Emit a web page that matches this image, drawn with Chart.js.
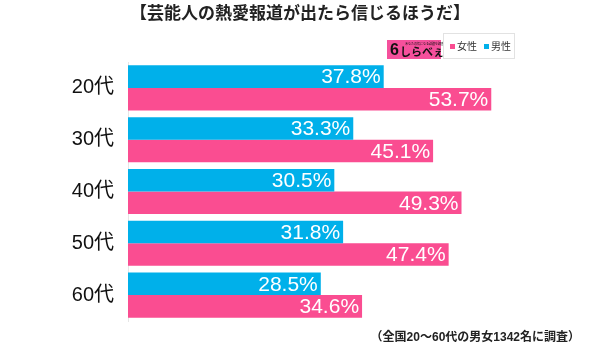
<!DOCTYPE html>
<html>
<head>
<meta charset="utf-8">
<script src="https://cdn.jsdelivr.net/npm/chart.js@4"></script>
<style>
    html, body { margin: 0; padding: 0; background: #fff; }
    #wrap { width: 600px; height: 347px; }
</style>
</head>
<body>
<div id="wrap"><canvas id="chart"></canvas></div>
<script>
// data
var categories = ["20代", "30代", "40代", "50代", "60代"];
var male = [37.8, 33.3, 30.5, 31.8, 28.5];
var female = [53.7, 45.1, 49.3, 47.4, 34.6];
var seriesNames = ["男性", "女性"];

var titleText = "【芸能人の熱愛報道が出たら信じるほうだ】";
var footText = "（全国20～60代の男女1342名に調査）";

var BLUE = "#00b0ea";
var PINK = "#fa4d91";
var FONT = "'Liberation Sans', 'Noto Sans CJK JP', sans-serif";

// labels inside the end of each bar
var barLabels = {
    id: 'barLabels',
    afterDatasetsDraw: function (chart) {
        var ctx = chart.ctx;
        ctx.save();
        ctx.fillStyle = '#fff';
        ctx.font = '21px ' + FONT;
        ctx.textAlign = 'right';
        ctx.textBaseline = 'middle';
        chart.data.datasets.forEach(function (ds, i) {
            chart.getDatasetMeta(i).data.forEach(function (bar, j) {
                ctx.fillText(ds.data[j].toFixed(1) + '%', bar.x - 3, bar.y + 1);
            });
        });
        ctx.restore();
    }
};

// title, logo, legend, footer
var decor = {
    id: 'decor',
    afterDraw: function (chart) {
        var ctx = chart.ctx;
        ctx.save();
        // title
        ctx.fillStyle = '#222';
        ctx.font = 'bold 17px ' + FONT;
        ctx.textAlign = 'center';
        ctx.textBaseline = 'middle';
        ctx.fillText(titleText, 300, 14);

        // logo
        ctx.fillStyle = '#f5509c';
        ctx.fillRect(387, 40, 54, 19);
        ctx.fillStyle = '#111';
        ctx.textAlign = 'left';
        ctx.font = 'bold 16px ' + FONT;
        ctx.fillText('6', 390, 51);
        ctx.font = 'bold 11px ' + FONT;
        ctx.fillText('しらべぇ', 400, 53);
        ctx.font = '3px ' + FONT;
        ctx.fillText('あなたの気になる話題を調査', 405, 44);

        // legend box
        ctx.strokeStyle = '#e2e2e2';
        ctx.lineWidth = 1;
        ctx.strokeRect(443.5, 33.5, 71, 25);
        ctx.font = '10px ' + FONT;
        ctx.fillStyle = PINK;
        ctx.fillRect(450, 44, 5, 5);
        ctx.fillStyle = '#333';
        ctx.fillText(seriesNames[1], 457, 47);
        ctx.fillStyle = BLUE;
        ctx.fillRect(484, 44, 5, 5);
        ctx.fillStyle = '#333';
        ctx.fillText(seriesNames[0], 491, 47);

        // footer
        ctx.fillStyle = '#222';
        ctx.font = 'bold 12px ' + FONT;
        ctx.textAlign = 'right';
        ctx.fillText(footText, 580, 338);
        ctx.restore();
    }
};

new Chart(document.getElementById("chart"), {
    type: 'bar',
    data: {
        labels: categories,
        datasets: [{
            label: seriesNames[0],
            data: male,
            backgroundColor: BLUE,
            borderWidth: 0
        }, {
            label: seriesNames[1],
            data: female,
            backgroundColor: PINK,
            borderWidth: 0
        }]
    },
    options: {
        indexAxis: 'y',
        responsive: true,
        maintainAspectRatio: false,
        animation: false,
        categoryPercentage: 0.87,
        barPercentage: 1,
        layout: {
            padding: { top: 62, bottom: 21, left: 0, right: 12 }
        },
        plugins: {
            legend: { display: false },
            title: { display: false },
            tooltip: { enabled: false }
        },
        scales: {
            x: {
                display: false,
                min: 0,
                max: 68
            },
            y: {
                afterFit: function (scale) { scale.width = 128; },
                grid: { display: false, drawTicks: false },
                border: { display: true, color: '#e6e6e6', width: 1 },
                ticks: {
                    color: '#111',
                    padding: 14,
                    font: { size: 20, family: FONT }
                }
            }
        }
    },
    plugins: [barLabels, decor]
});
</script>
</body>
</html>
